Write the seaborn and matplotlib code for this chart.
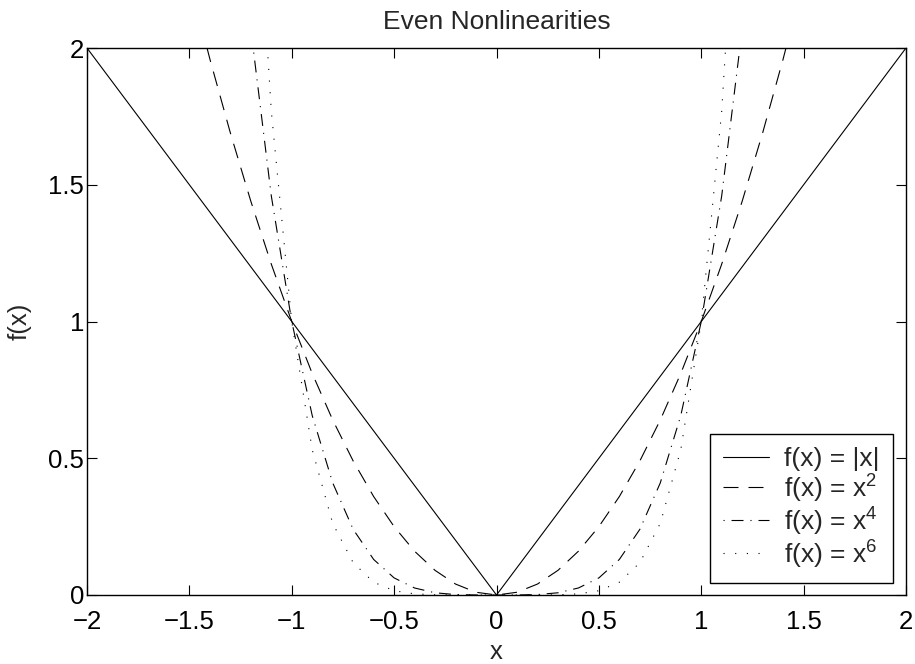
import matplotlib
matplotlib.use("Agg")
import matplotlib.pyplot as plt
import seaborn as sns
import pandas as pd

x = [-2.0, -1.9, -1.8, -1.7, -1.6, -1.5, -1.4, -1.3, -1.2, -1.1, -1.0,
     -0.9, -0.8, -0.7, -0.6, -0.5, -0.4, -0.3, -0.2, -0.1, 0.0,
     0.1, 0.2, 0.3, 0.4, 0.5, 0.6, 0.7, 0.8, 0.9, 1.0,
     1.1, 1.2, 1.3, 1.4, 1.5, 1.6, 1.7, 1.8, 1.9, 2.0]

y_abs = [2.0, 1.9, 1.8, 1.7, 1.6, 1.5, 1.4, 1.3, 1.2, 1.1, 1.0,
         0.9, 0.8, 0.7, 0.6, 0.5, 0.4, 0.3, 0.2, 0.1, 0.0,
         0.1, 0.2, 0.3, 0.4, 0.5, 0.6, 0.7, 0.8, 0.9, 1.0,
         1.1, 1.2, 1.3, 1.4, 1.5, 1.6, 1.7, 1.8, 1.9, 2.0]

y_sq = [4.00, 3.61, 3.24, 2.89, 2.56, 2.25, 1.96, 1.69, 1.44, 1.21, 1.00,
        0.81, 0.64, 0.49, 0.36, 0.25, 0.16, 0.09, 0.04, 0.01, 0.00,
        0.01, 0.04, 0.09, 0.16, 0.25, 0.36, 0.49, 0.64, 0.81, 1.00,
        1.21, 1.44, 1.69, 1.96, 2.25, 2.56, 2.89, 3.24, 3.61, 4.00]

y_4 = [16.0, 13.03, 10.50, 8.35, 6.55, 5.06, 3.84, 2.86, 2.07, 1.46, 1.00,
       0.656, 0.410, 0.240, 0.130, 0.0625, 0.0256, 0.0081, 0.0016, 0.0001, 0.0,
       0.0001, 0.0016, 0.0081, 0.0256, 0.0625, 0.130, 0.240, 0.410, 0.656, 1.00,
       1.46, 2.07, 2.86, 3.84, 5.06, 6.55, 8.35, 10.50, 13.03, 16.0]

y_6 = [64.0, 47.05, 34.01, 24.14, 16.78, 11.39, 7.53, 4.83, 2.99, 1.77, 1.00,
       0.531, 0.262, 0.118, 0.0467, 0.0156, 0.0041, 0.00073, 0.000064, 0.000001, 0.0,
       0.000001, 0.000064, 0.00073, 0.0041, 0.0156, 0.0467, 0.118, 0.262, 0.531, 1.00,
       1.77, 2.99, 4.83, 7.53, 11.39, 16.78, 24.14, 34.01, 47.05, 64.0]

xtick_vals = [-2, -1.5, -1, -0.5, 0, 0.5, 1, 1.5, 2]
xtick_labels = ["\u22122", "\u22121.5", "\u22121", "\u22120.5", "0", "0.5", "1", "1.5", "2"]
ytick_vals = [0, 0.5, 1, 1.5, 2]
ytick_labels = ["0", "0.5", "1", "1.5", "2"]

labels = ["f(x) = |x|", "f(x) = x$^2$", "f(x) = x$^4$", "f(x) = x$^6$"]
styles = ["-", (0, (10.8, 7.2)), (0, (0.8, 5.0, 8.6, 5.0)), (0, (0.8, 7.6))]
series = [y_abs, y_sq, y_4, y_6]

sns.set_style("white")
plt.rcParams["font.family"] = ["Liberation Sans", "DejaVu Sans"]
plt.rcParams["mathtext.fontset"] = "custom"
plt.rcParams["mathtext.rm"] = "Liberation Sans"
plt.rcParams["lines.scale_dashes"] = False

FS = 18.5
LFS = 19

fig = plt.figure(figsize=(9.15, 6.64), dpi=100)
ax = fig.add_axes([87 / 915, 1 - 595 / 664, (906 - 87) / 915, (595 - 48) / 664])

for ys, lab, ls in zip(series, labels, styles):
    df = pd.DataFrame({"x": x, "y": ys})
    sns.lineplot(data=df, x="x", y="y", ax=ax, color="black", linewidth=0.8,
                 linestyle=ls, label=lab, legend=False)

ax.set_xlim(-2, 2)
ax.set_ylim(0, 2)
ax.set_xticks(xtick_vals)
ax.set_xticklabels(xtick_labels)
ax.set_yticks(ytick_vals)
ax.set_yticklabels(ytick_labels)
ax.tick_params(direction="in", length=7, width=0.8, labelsize=FS, top=True, right=True,
               bottom=True, left=True, color="black", labelcolor="black")
ax.tick_params(axis="x", pad=11)
ax.tick_params(axis="y", pad=2)
for s in ax.spines.values():
    s.set_visible(True)
    s.set_color("black")
    s.set_linewidth(1.0)

ax.set_xlabel("x", fontsize=FS, labelpad=4)
ax.set_ylabel("f(x)", fontsize=FS, labelpad=12)
ax.set_title("Even Nonlinearities", fontsize=19, pad=14)

leg = ax.legend(loc="lower right", bbox_to_anchor=(0.984, 0.022), fontsize=LFS,
                frameon=True, fancybox=False, edgecolor="black", handlelength=1.75,
                handletextpad=0.57, labelspacing=0.0, borderpad=0.5, borderaxespad=0)
leg.get_frame().set_linewidth(1.0)
leg.get_frame().set_facecolor("white")
leg.get_frame().set_alpha(1)

fig.savefig("out.png", dpi=100, facecolor="white")
